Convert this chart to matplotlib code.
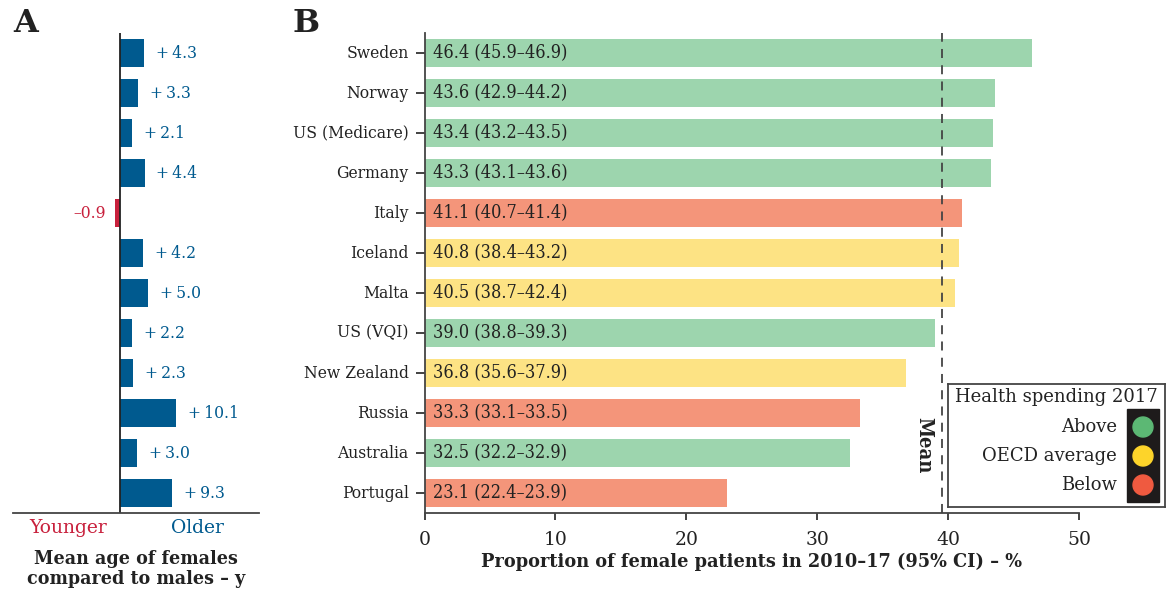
import numpy as np
import matplotlib
matplotlib.use("Agg")
import matplotlib.pyplot as plt
from matplotlib import font_manager
from matplotlib.patches import Rectangle, Circle

plt.rcParams["font.family"] = "DejaVu Serif"

# narrower face for the dense labels, when the condensed cut is installed
_names = {f.name for f in font_manager.fontManager.ttflist}
if "DejaVu Serif Condensed" in _names:
    COND = {"family": "DejaVu Serif Condensed"}
else:
    COND = {"family": "DejaVu Serif", "fontstretch": "condensed"}

countries = ["Sweden", "Norway", "US (Medicare)", "Germany", "Italy", "Iceland", "Malta",
             "US (VQI)", "New Zealand", "Russia", "Australia", "Portugal"]
female_pct = [46.4, 43.6, 43.4, 43.3, 41.1, 40.8, 40.5, 39.0, 36.8, 33.3, 32.5, 23.1]
ci_low = [45.9, 42.9, 43.2, 43.1, 40.7, 38.4, 38.7, 38.8, 35.6, 33.1, 32.2, 22.4]
ci_high = [46.9, 44.2, 43.5, 43.6, 41.4, 43.2, 42.4, 39.3, 37.9, 33.5, 32.9, 23.9]
spending = ["Above", "Above", "Above", "Above", "Below", "OECD average", "OECD average",
            "Above", "OECD average", "Below", "Above", "Below"]
age_diff = [4.3, 3.3, 2.1, 4.4, -0.9, 4.2, 5.0, 2.2, 2.3, 10.1, 3.0, 9.3]
mean_pct = 39.5

BAR_COL = {"Above": "#9dd5ae", "OECD average": "#fde384", "Below": "#f4957a"}
LIGHT_COL = {"Above": "#5cb874", "OECD average": "#fdd42a", "Below": "#ef5a40"}
BLUE, RED, INK = "#005a8f", "#c8203c", "#222222"

W, H = 1169, 595
fig = plt.figure(figsize=(W / 100, H / 100), dpi=100)
ypos = np.arange(len(countries))

# ---- panel A: age difference ----
axa = fig.add_axes([13 / W, 82 / H, 246 / W, 480 / H])
axa.barh(ypos, age_diff, height=0.68, color=[BLUE if v > 0 else RED for v in age_diff])
axa.axvline(0, color=INK, lw=1.3)
axa.set_xlim(-19.3, 25)
axa.set_ylim(11.5, -0.5)
axa.set_xticks([]); axa.set_yticks([])
for s in ["left", "right", "top"]:
    axa.spines[s].set_visible(False)
axa.spines["bottom"].set_color("#444"); axa.spines["bottom"].set_linewidth(1.3)
for y, v in zip(ypos, age_diff):
    if v > 0:
        axa.annotate(f"+\u2009{v:.1f}", (v, y), xytext=(8.5, 0), textcoords="offset points",
                     ha="left", va="center", color=BLUE, fontsize=12.5, **COND)
    else:
        axa.annotate(f"\u2013{abs(v):.1f}", (v, y), xytext=(-6.5, 0), textcoords="offset points",
                     ha="right", va="center", color=RED, fontsize=12.5, **COND)
tr = axa.get_xaxis_transform()
axa.text(-9.35, -0.031, "Younger", transform=tr, ha="center", va="center", color=RED, fontsize=13.5)
axa.text(14, -0.031, "Older", transform=tr, ha="center", va="center", color=BLUE, fontsize=13.5)
axa.text(0.5, -0.117, "Mean age of females\ncompared to males \u2013 y", transform=axa.transAxes,
         ha="center", va="center", fontweight="bold", fontsize=14, linespacing=1.15, color=INK, **COND)

# ---- panel B: proportion of female patients ----
axb = fig.add_axes([424.5 / W, 82 / H, 654.5 / W, 480 / H])
axb.barh(ypos, female_pct, height=0.72, color=[BAR_COL[s] for s in spending])
for y, v, lo, hi in zip(ypos, female_pct, ci_low, ci_high):
    axb.annotate(f"{v:.1f} ({lo:.1f}\u2013{hi:.1f})", (0, y), xytext=(6, 0), textcoords="offset points",
                 ha="left", va="center", color=INK, fontsize=13, **COND)
axb.axvline(mean_pct, color="#444", lw=1.3, ls=(0, (5, 4)))
axb.text(38.2, 9.8, "Mean", rotation=270, ha="center", va="center", fontweight="bold",
         fontsize=14.5, color=INK, **COND)
axb.set_xlim(0, 50)
axb.set_ylim(11.5, -0.5)
axb.set_yticks(ypos, countries)
axb.set_xticks(range(0, 51, 10))
axb.tick_params(axis="y", length=6.5, width=1.2, pad=5, labelsize=12.5, colors=INK)
axb.tick_params(axis="x", length=5, width=1.2, pad=8, labelsize=13.5, colors=INK)
for lbl in axb.get_yticklabels():
    lbl.set_fontfamily(COND["family"])
    lbl.set_verticalalignment("center")
    if "fontstretch" in COND:
        lbl.set_fontstretch(COND["fontstretch"])
for s in ["right", "top"]:
    axb.spines[s].set_visible(False)
for s in ["left", "bottom"]:
    axb.spines[s].set_color("#444"); axb.spines[s].set_linewidth(1.3)
axb.set_xlabel("Proportion of female patients in 2010\u201317 (95% CI) \u2013 %", fontweight="bold",
               fontsize=12.8, labelpad=3, color=INK)

# ---- legend: traffic light box ----
leg = fig.add_axes([948 / W, 88 / H, 217 / W, 123 / H], zorder=5)
leg.set_xlim(0, 217); leg.set_ylim(0, 123)
leg.set_xticks([]); leg.set_yticks([])
for s in leg.spines.values():
    s.set_color("#444"); s.set_linewidth(1.3)
leg.text(108.5, 110, "Health spending 2017", ha="center", va="center", fontsize=13, color=INK)
leg.add_patch(Rectangle((179, 5), 32, 93, color="#1e1b1b"))
for cy, key in zip([80, 51, 22], ["Above", "OECD average", "Below"]):
    leg.text(169, cy, key, ha="right", va="center", fontsize=13, color=INK)
    leg.add_patch(Circle((195, cy), 10, color=LIGHT_COL[key]))

fig.text(13 / W, 1 - 24 / H, "A", fontsize=23, fontweight="bold", va="center", ha="left", color=INK)
fig.text(293 / W, 1 - 24 / H, "B", fontsize=23, fontweight="bold", va="center", ha="left", color=INK)

fig.savefig("out.png", dpi=100)
